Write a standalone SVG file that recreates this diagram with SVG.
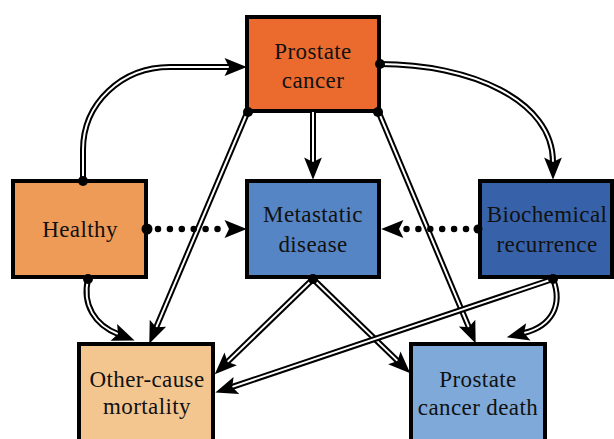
<svg xmlns="http://www.w3.org/2000/svg" width="614" height="439" viewBox="0 0 614 439">
<style>
.box{stroke:#000;stroke-width:4}
.lbl{font-family:"Liberation Serif","Times New Roman",serif;font-size:23px;letter-spacing:0.4px;fill:#111;text-anchor:middle}
.o{fill:none;stroke:#000;stroke-width:6}
.i{fill:none;stroke:#fff;stroke-width:2;marker-end:url(#ah)}
.dot{fill:#000}
.dots{fill:none;stroke:#000;stroke-width:6.5;stroke-linecap:round;stroke-dasharray:0 11.9}
.tip{fill:none;stroke:none;marker-end:url(#ah)}
</style>
<defs>
<marker id="ah" markerUnits="userSpaceOnUse" markerWidth="30" markerHeight="20" viewBox="-5 -9 22 18" refX="0" refY="0" orient="auto" overflow="visible">
<path d="M16,0 L-4,-8 L0,0 L-4,8 Z" fill="#000"/>
</marker>
</defs>
<g id="nodes">
<g id="prostate-cancer"><rect class="box" x="247" y="17" width="132" height="94" fill="#EB6B2F"/><text class="lbl" x="313" y="59">Prostate</text><text class="lbl" x="313" y="88">cancer</text></g>
<g id="healthy"><rect class="box" x="13" y="181" width="133" height="96" fill="#EE9B57"/><text class="lbl" x="80" y="237">Healthy</text></g>
<g id="metastatic"><rect class="box" x="247" y="181" width="132" height="96" fill="#5685C5"/><text class="lbl" x="313" y="222">Metastatic</text><text class="lbl" x="313" y="252">disease</text></g>
<g id="biochemical"><rect class="box" x="480" y="181" width="132" height="96" fill="#3762AA"/><text class="lbl" x="547" y="222">Biochemical</text><text class="lbl" x="547" y="252">recurrence</text></g>
<g id="other-cause"><rect class="box" x="79" y="344" width="134" height="100" fill="#F3C690"/><text class="lbl" x="147" y="387">Other-cause</text><text class="lbl" x="147" y="414">mortality</text></g>
<g id="pc-death"><rect class="box" x="411" y="344" width="134" height="100" fill="#7EA9D9"/><text class="lbl" x="478" y="387">Prostate</text><text class="lbl" x="478" y="415">cancer death</text></g>
</g>
<g id="connectors">
<path class="o" d="M83,181 L83,150 C83,103 122,67 170,67 L229,67"/><path class="i" d="M83,181 L83,150 C83,103 122,67 170,67 L229,67"/>
<path class="o" d="M380,64 C470,64 553,100 553,162"/><path class="i" d="M380,64 C470,64 553,100 553,162"/>
<path class="o" d="M247,113 L156.2,327.3"/><path class="i" d="M247,113 L156.2,327.3"/>
<path class="o" d="M379,113 L468.8,327.2"/><path class="i" d="M379,113 L468.8,327.2"/>
<path class="o" d="M313,112 L313,162"/><path class="i" d="M313,112 L313,162"/>
<path class="o" d="M88,279 C82,305 95,325 118,334"/><path class="i" d="M88,279 C82,305 95,325 118,334"/>
<path class="o" d="M313,279 L227.5,361.9"/><path class="i" d="M313,279 L227.5,361.9"/>
<path class="o" d="M313,279 L397.5,360.9"/><path class="i" d="M313,279 L397.5,360.9"/>
<path class="o" d="M553,279 L232.2,386.9"/><path class="i" d="M553,279 L232.2,386.9"/>
<path class="o" d="M553,279 C563,305 552,326 524,333"/><path class="i" d="M553,279 C563,305 552,326 524,333"/>
<path class="dots" d="M158,229 L219,229"/><path class="tip" d="M224,229 L229,229"/>
<path class="dots" d="M466,229 L405,229"/><path class="tip" d="M404,229 L399,229"/>
<circle class="dot" cx="83" cy="181" r="5"/>
<circle class="dot" cx="88" cy="279" r="5"/>
<circle class="dot" cx="147" cy="229" r="5.5"/>
<circle class="dot" cx="380" cy="64" r="5"/>
<circle class="dot" cx="248" cy="112" r="5"/>
<circle class="dot" cx="378" cy="112" r="5"/>
<circle class="dot" cx="313" cy="279" r="5"/>
<circle class="dot" cx="478" cy="229" r="4.5"/>
<circle class="dot" cx="553" cy="279" r="5"/>
</g>
</svg>
